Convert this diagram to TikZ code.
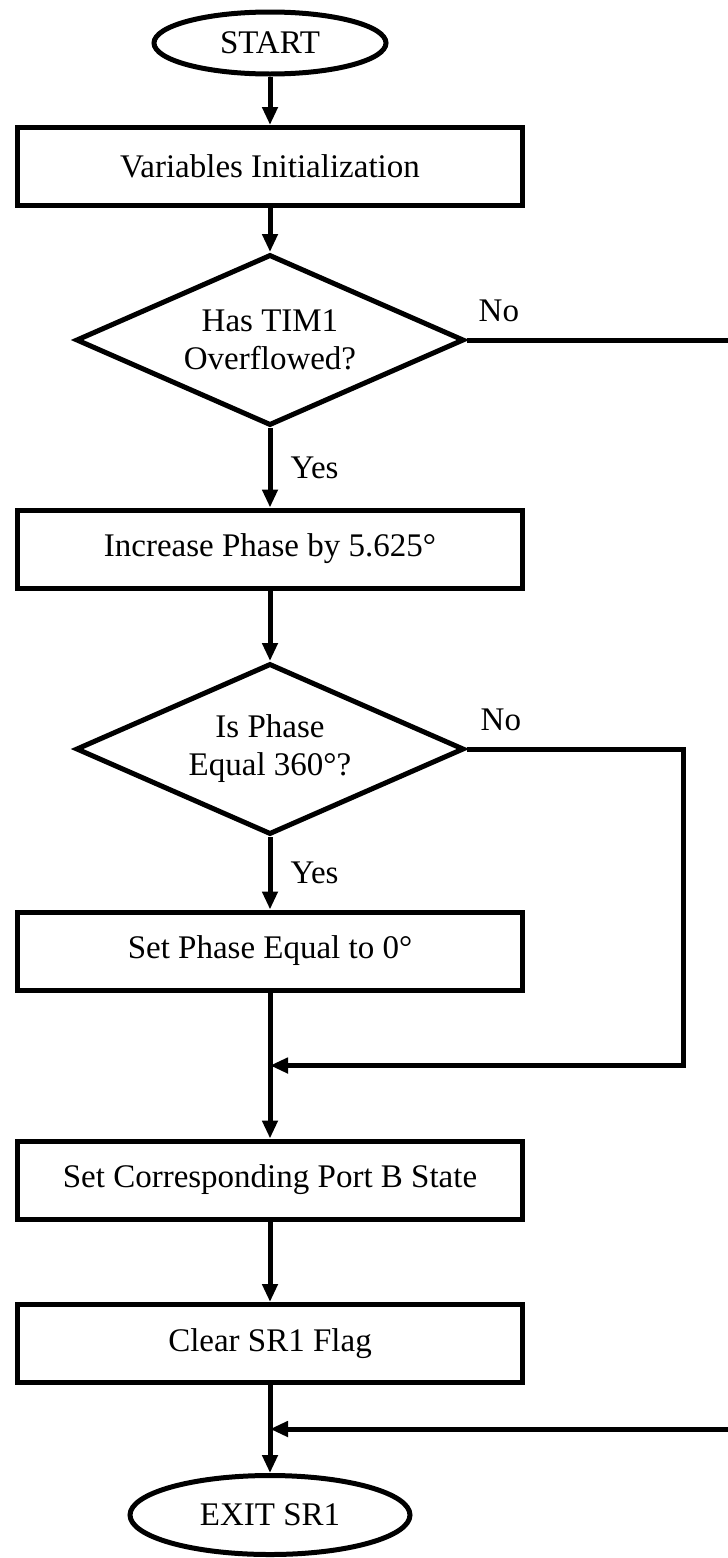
\documentclass[tikz,border=0pt]{standalone}
\usepackage{fontspec}
\setmainfont{Liberation Serif}
\usetikzlibrary{arrows.meta,positioning,calc,shapes.geometric}

\begin{document}
\begin{tikzpicture}[x=1pt,y=-1pt,font=\fontsize{33}{38}\selectfont,
  term/.style={draw,ellipse,line width=5pt,inner sep=0pt},
  proc/.style={draw,rectangle,line width=5pt,minimum width=505pt,minimum height=78pt},
  dec/.style={draw,diamond,line width=5pt,aspect=2.27,minimum width=388pt,minimum height=171pt,inner sep=0pt,align=center},
  flow/.style={line width=5pt,-{Triangle[length=18pt,width=15pt]}},
  lbl/.style={inner sep=0pt}]
  \useasboundingbox (0,0) rectangle (728,1558);
  % main column
  \node[term,minimum width=232pt,minimum height=62pt] (start) at (270,43) {START};
  \node[proc] (init) at (270,166.5) {Variables Initialization};
  \node[dec] (tim) at (270,340) {Has TIM1\\Overflowed?};
  \node[proc] (inc) at (270,549) {Increase Phase by 5.625°};
  \node[dec] (chk) at (270,749) {Is Phase\\Equal 360°?};
  \node[proc] (reset) at (270,951) {Set Phase Equal to 0°};
  \node[proc] (port) at (270,1180) {Set Corresponding Port B State};
  \node[proc] (clr) at (270,1343.5) {Clear SR1 Flag};
  \node[term,minimum width=280pt,minimum height=79pt] (exit) at (270,1515) {EXIT SR1};
  \draw[flow] (start) -- (init);
  \draw[flow] (init) -- (tim);
  \draw[flow] (tim) -- node[lbl,right=18pt] (yes1) {Yes} (inc);
  \draw[flow] (inc) -- (chk);
  \draw[flow] (chk) -- node[lbl,right=18pt] (yes2) {Yes} (reset);
  \draw[flow] (reset) -- (port);
  \draw[flow] (port) -- (clr);
  \draw[flow] (clr) -- (exit);
  % "no" branches joining back into the column
  \node[lbl,above right=18pt and 12pt of tim.east] (no1) {No};
  \node[lbl,above right=18pt and 14pt of chk.east] (no2) {No};
  \coordinate (join1) at ($(reset.south)!.5!(port.north)$);
  \coordinate (join2) at ($(clr.south)!.5!(exit.north)$);
  \coordinate (loop2) at (683,0);
  \coordinate (loop1) at (770,0);
  \draw[flow] (chk.east) -| (loop2 |- join1) -- (join1);
  \draw[flow] (tim.east) -| (loop1 |- join2) -- (join2);
\end{tikzpicture}
\end{document}
